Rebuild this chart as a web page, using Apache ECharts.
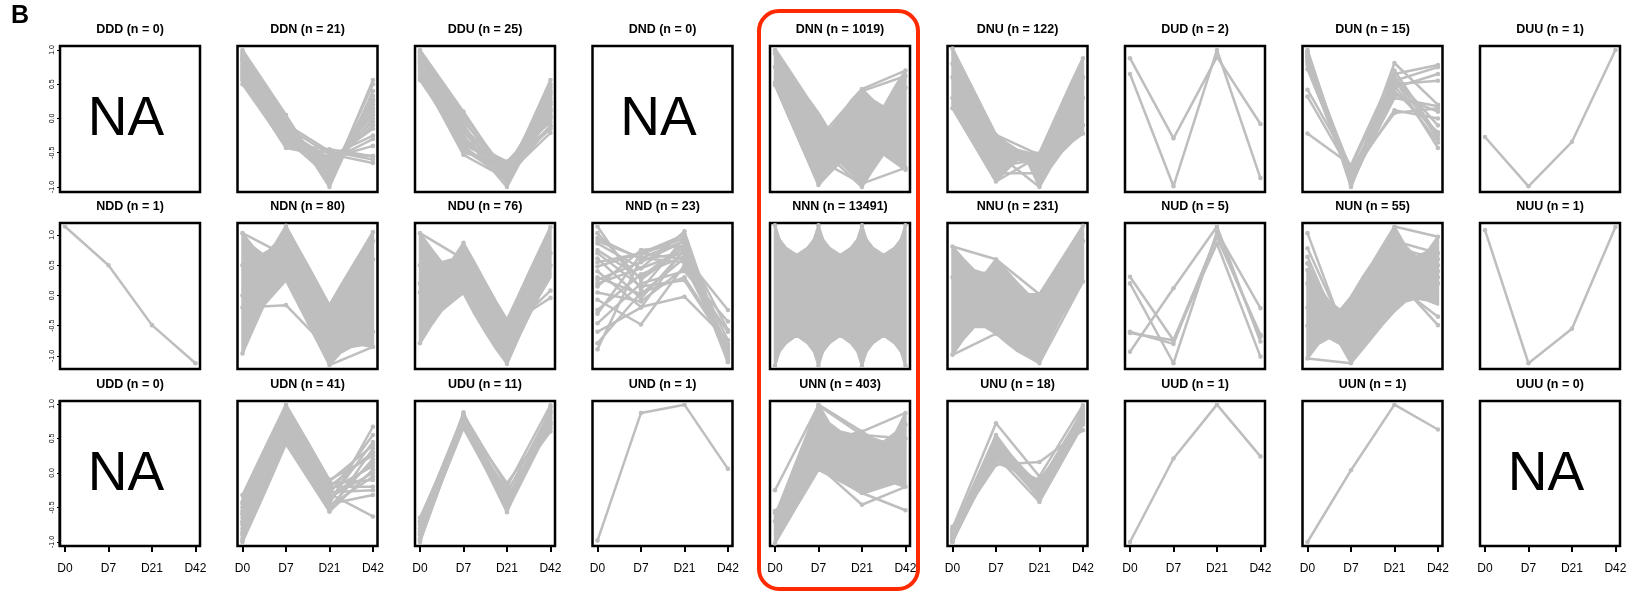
<!DOCTYPE html>
<html>
<head>
<meta charset="utf-8">
<script src="https://cdn.jsdelivr.net/npm/echarts@6/dist/echarts.min.js"></script>
<style>
  html, body { margin: 0; padding: 0; background: #fff; }
  #chart { width: 1640px; height: 592px; }
</style>
</head>
<body>
<div id="chart"></div>
<script>
// Expression-pattern panels: each trajectory is one gene (D0, D7, D21, D42).
const timeLabels = ['D0', 'D7', 'D21', 'D42'];
const timePoints = [1, 2, 3, 4];
const yTickValues = [-1, -0.5, 0, 0.5, 1];

const panelNames = [
  'DDD', 'DDN', 'DDU', 'DND', 'DNN', 'DNU', 'DUD', 'DUN', 'DUU',
  'NDD', 'NDN', 'NDU', 'NND', 'NNN', 'NNU', 'NUD', 'NUN', 'NUU',
  'UDD', 'UDN', 'UDU', 'UND', 'UNN', 'UNU', 'UUD', 'UUN', 'UUU'
];
const panelCounts = [
  0, 21, 25, 0, 1019, 122, 2, 15, 1,
  1, 80, 76, 23, 13491, 231, 5, 55, 1,
  0, 41, 11, 1, 403, 18, 1, 1, 0
];
// y range per row of panels
const rowYRange = [[-1.073, 1.058], [-1.215, 1.198], [-1.058, 1.043]];

// ---- individual trajectories [D0, D7, D21, D42] ----
const linesDDN = [
  [1.00, 0.05, -0.95, 0.56], [0.95, 0.02, -0.90, 0.50], [0.90, -0.05, -0.85, 0.33],
  [0.85, -0.10, -0.80, 0.25], [0.80, -0.15, -0.75, 0.20], [0.75, -0.20, -0.72, 0.10],
  [0.70, -0.25, -0.70, 0.05], [0.65, -0.30, -0.65, -0.05], [0.60, -0.35, -0.60, -0.15],
  [0.55, -0.43, -0.55, -0.25], [0.50, -0.40, -0.50, -0.55], [0.92, -0.08, -0.48, -0.60],
  [0.88, -0.12, -0.52, -0.65], [0.78, -0.22, -0.62, -0.30], [0.68, -0.30, -0.85, 0.15],
  [0.97, 0.00, -1.00, 0.40], [0.83, -0.18, -0.58, -0.40], [0.72, -0.28, -0.78, 0.00],
  [0.62, -0.33, -0.68, -0.10], [0.58, -0.38, -0.45, -0.55], [0.87, -0.10, -0.92, 0.28]
];
const linesDDU = [
  [1.00, 0.10, -0.85, 0.56], [0.98, 0.05, -0.80, 0.50], [0.95, 0.00, -0.90, 0.45],
  [0.92, -0.05, -0.75, 0.40], [0.90, -0.10, -0.95, 0.35], [0.88, -0.15, -0.70, 0.30],
  [0.85, -0.20, -0.85, 0.25], [0.83, -0.25, -1.00, 0.20], [0.80, -0.30, -0.80, 0.15],
  [0.78, -0.35, -0.68, 0.10], [0.75, -0.40, -0.92, 0.05], [0.72, -0.45, -0.78, 0.00],
  [0.68, -0.50, -0.65, -0.05], [0.65, -0.53, -0.88, -0.10], [0.62, -0.48, -0.72, -0.15],
  [0.60, -0.42, -0.82, -0.21], [0.56, -0.38, -0.70, -0.12], [0.58, -0.30, -0.63, 0.02],
  [0.70, -0.20, -0.75, 0.22], [0.96, -0.12, -0.93, 0.38], [0.82, -0.45, -0.87, 0.12]
];
const linesDNN = [
  [1.00, -0.30, 0.43, 0.70], [0.49, -0.97, -0.30, -0.75], [0.52, -0.90, 0.40, 0.62],
  [0.75, -0.40, -1.00, 0.45], [0.95, -0.60, -0.95, -0.72]
];
const linesDNU = [
  [1.02, -0.24, -0.53, 0.88], [0.15, -0.92, -0.55, -0.22], [0.60, -0.50, -1.00, 0.30],
  [0.80, -0.70, -0.60, 0.60], [0.30, -0.80, -0.80, -0.10]
];
const linesDUD = [
  [0.88, -0.29, 0.90, -0.08], [0.65, -0.99, 1.00, -0.87]
];
const linesDUN = [
  [1.00, -0.95, 0.81, 0.20], [0.98, -0.90, 0.65, 0.78], [0.96, -1.00, 0.55, 0.75],
  [0.94, -0.85, 0.45, 0.65], [0.92, -0.92, 0.60, -0.10], [0.90, -0.80, 0.50, 0.55],
  [0.88, -0.97, 0.40, -0.20], [0.85, -0.75, 0.35, 0.10], [0.82, -0.88, 0.62, -0.30],
  [0.78, -0.93, 0.30, 0.18], [0.72, -0.83, 0.12, 0.00], [0.42, -0.70, 0.58, -0.43],
  [0.32, -0.78, 0.08, 0.15], [-0.22, -0.68, 0.70, -0.25], [0.96, -0.96, 0.48, -0.35]
];
const linesDUU = [[-0.27, -0.99, -0.34, 1.00]];

const linesNDD = [[1.14, 0.50, -0.49, -1.12]];
const linesNDN = [
  [1.03, 0.66, -0.50, 1.05], [-0.96, 1.15, -1.15, -0.85], [-0.20, -0.16, -0.90, 0.60],
  [0.50, 0.90, -0.30, -0.60], [0.00, 0.60, -0.70, 0.90]
];
const linesNDU = [
  [1.03, 0.60, -0.90, 1.13], [-0.79, 0.87, -1.13, 0.50], [0.20, 0.30, -0.60, 0.08],
  [0.05, 0.15, -0.50, -0.04], [0.50, 0.04, -0.40, 0.70]
];
const linesNND = [
  [1.14, 0.10, 0.95, -1.10], [1.03, 0.26, 0.80, -1.00], [0.95, 0.60, 0.70, -0.85],
  [0.86, 0.45, 1.06, -1.05], [0.75, 0.30, 0.85, -0.95], [0.61, -0.05, 0.75, -0.74],
  [0.48, 0.70, 0.60, -1.00], [0.26, 0.55, 0.90, -1.08], [0.15, 0.75, 0.82, -0.57],
  [-0.07, -0.48, 0.50, -0.90], [-0.24, 0.35, 0.65, -0.24], [-0.46, 0.20, 0.40, -0.43],
  [-0.79, 0.05, 0.30, -0.80], [-0.89, 0.62, 0.55, -0.95], [0.40, -0.19, -0.02, -0.74],
  [0.20, 0.45, 0.72, -1.10], [-0.30, 0.68, 0.95, -0.98], [0.70, 0.15, 0.25, -0.85],
  [0.05, -0.10, 0.45, -0.60], [0.90, 0.62, 0.90, -1.05], [-0.60, -0.20, 0.78, -0.92],
  [0.55, 0.70, 1.00, -0.99], [0.30, 0.02, 0.62, -0.88]
];
const linesNNN = [
  [1.16, -1.16, 1.16, -1.16], [-1.16, 1.16, -1.16, 1.16]
];
const linesNNU = [
  [0.81, 0.60, 0.02, 1.15], [-0.98, -0.63, -1.12, 0.23], [0.30, 0.40, -0.50, 0.90]
];
const linesNUD = [
  [0.31, -0.74, 0.97, -0.65], [0.20, -1.12, 1.05, -0.21], [-0.62, -0.74, 0.86, -1.01],
  [-0.93, 0.12, 1.14, -0.76], [-0.60, -0.80, 1.00, -0.68]
];
const linesNUN = [
  [1.03, -0.90, 0.50, 0.40], [0.78, -0.80, 0.60, 0.50], [0.64, -1.00, 0.70, 0.30],
  [0.53, -0.95, 0.80, 0.60], [0.42, -0.85, 0.40, 0.20], [0.20, -0.75, 0.90, 0.70],
  [-0.50, -0.90, 0.30, -0.49], [-0.20, -1.00, 0.20, -0.35], [-1.04, -1.12, 1.14, 0.97]
];
const linesNUU = [[1.08, -1.12, -0.55, 1.13]];

const linesUDN = [
  [-0.32, 0.60, -0.20, 0.30], [-0.45, 0.80, -0.30, 0.55], [-0.50, 0.70, -0.45, 0.67],
  [-0.55, 0.90, -0.25, 0.10], [-0.60, 0.55, -0.40, 0.45], [-0.65, 0.99, -0.50, 0.20],
  [-0.70, 0.75, -0.15, -0.10], [-0.75, 0.85, -0.35, 0.00], [-0.80, 0.65, -0.55, 0.35],
  [-0.85, 0.95, -0.20, -0.20], [-0.90, 0.50, -0.10, 0.25], [-0.95, 0.88, -0.45, -0.32],
  [-1.00, 0.78, -0.30, -0.63], [-0.98, 0.92, -0.56, 0.05], [-0.88, 0.45, -0.38, 0.15],
  [-0.72, 0.60, -0.28, -0.25], [-0.58, 0.82, -0.12, 0.40], [-0.42, 0.68, -0.48, -0.05]
];
const linesUDU = [
  [-0.70, 0.85, -0.20, 0.98], [-0.75, 0.80, -0.30, 0.90], [-0.80, 0.75, -0.40, 0.85],
  [-0.85, 0.70, -0.45, 0.80], [-0.90, 0.65, -0.50, 0.75], [-0.95, 0.88, -0.55, 0.70],
  [-1.00, 0.78, -0.35, 0.65], [-0.72, 0.68, -0.25, 0.60], [-0.88, 0.82, -0.48, 0.88],
  [-0.98, 0.72, -0.57, 0.95], [-0.65, 0.76, -0.15, 0.72]
];
const linesUND = [[-0.98, 0.87, 0.99, 0.06]];
const linesUNN = [
  [-0.25, 0.98, 0.55, 0.50], [-0.58, 0.10, -0.46, -0.20], [-0.55, 0.05, -0.29, -0.54],
  [-1.02, 0.99, 0.60, 0.87], [-0.70, 0.30, 0.20, 0.70]
];
const linesUNU = [
  [-0.80, 0.72, -0.05, 0.98], [-0.85, 0.55, -0.30, 0.90], [-0.90, 0.50, -0.20, 0.85],
  [-0.95, 0.45, -0.25, 0.80], [-1.00, 0.40, -0.35, 0.75], [-0.92, 0.35, -0.28, 0.82],
  [-0.88, 0.30, -0.22, 0.88], [-0.98, 0.25, -0.42, 0.70], [-0.83, 0.12, 0.16, 0.62],
  [-0.96, 0.48, -0.38, 0.92], [-0.87, 0.20, -0.18, 0.78], [-0.93, 0.42, -0.32, 0.86],
  [-1.00, 0.52, -0.40, 0.95], [-0.78, 0.15, -0.10, 0.72], [-0.90, 0.38, -0.15, 0.90],
  [-0.94, 0.46, -0.26, 0.84], [-0.86, 0.33, -0.36, 0.80], [-0.99, 0.28, -0.30, 0.76]
];
const linesUUD = [[-1.00, 0.21, 0.99, 0.24]];
const linesUUN = [[-1.00, 0.04, 0.99, 0.63]];

// ---- spread of densely overlapping trajectories: [time, low, high] ----
const bandDNN = [
  [1.00, 0.49, 1.02], [1.25, 0.12, 0.78], [1.50, -0.24, 0.54], [1.75, -0.60, 0.30],
  [2.00, -0.97, 0.08], [2.25, -0.78, -0.18], [2.50, -0.64, 0.03], [2.75, -0.80, 0.26],
  [3.00, -1.00, 0.43], [3.25, -0.75, 0.27], [3.50, -0.52, 0.17], [3.75, -0.62, 0.45],
  [4.00, -0.75, 0.70]
];
const bandDNU = [
  [1.00, 0.15, 1.02], [1.25, -0.12, 0.70], [1.50, -0.38, 0.39], [1.75, -0.65, 0.07],
  [2.00, -0.92, -0.24], [2.25, -0.75, -0.36], [2.50, -0.60, -0.46], [2.75, -0.66, -0.50],
  [3.00, -1.00, -0.50], [3.25, -0.72, -0.15], [3.50, -0.50, 0.20], [3.75, -0.34, 0.55],
  [4.00, -0.22, 0.88]
];
const bandNDN = [
  [1.00, -0.96, 1.03], [1.25, -0.55, 0.80], [1.50, -0.15, 0.66], [1.75, 0.05, 0.85],
  [2.00, 0.25, 1.15], [2.25, -0.10, 0.82], [2.50, -0.45, 0.50], [2.75, -0.80, 0.17],
  [3.00, -1.15, -0.16], [3.25, -0.95, 0.15], [3.50, -0.85, 0.45], [3.75, -0.82, 0.75],
  [4.00, -0.85, 1.05]
];
const bandNDU = [
  [1.00, -0.79, 1.03], [1.25, -0.50, 0.78], [1.50, -0.25, 0.55], [1.75, -0.10, 0.60],
  [2.00, 0.04, 0.87], [2.25, -0.30, 0.55], [2.50, -0.60, 0.22], [2.75, -0.88, -0.10],
  [3.00, -1.13, -0.40], [3.25, -0.72, -0.02], [3.50, -0.35, 0.37], [3.75, 0.00, 0.75],
  [4.00, 0.30, 1.13]
];
const bandNNN = [
  [1.00, -1.16, 1.16], [1.04, -1.04, 1.04], [1.10, -0.93, 0.93], [1.25, -0.79, 0.79],
  [1.50, -0.66, 0.67], [1.75, -0.79, 0.79], [1.90, -0.93, 0.93], [1.96, -1.04, 1.04],
  [2.00, -1.16, 1.16], [2.04, -1.04, 1.04], [2.10, -0.93, 0.93], [2.25, -0.79, 0.79],
  [2.50, -0.66, 0.67], [2.75, -0.79, 0.79], [2.90, -0.93, 0.93], [2.96, -1.04, 1.04],
  [3.00, -1.16, 1.16], [3.04, -1.04, 1.04], [3.10, -0.93, 0.93], [3.25, -0.79, 0.79],
  [3.50, -0.66, 0.67], [3.75, -0.79, 0.79], [3.90, -0.93, 0.93], [3.96, -1.04, 1.04],
  [4.00, -1.16, 1.16]
];
const bandNNU = [
  [1.00, -0.98, 0.81], [1.25, -0.72, 0.60], [1.50, -0.52, 0.42], [1.75, -0.52, 0.36],
  [2.00, -0.63, 0.60], [2.25, -0.78, 0.40], [2.50, -0.92, 0.20], [2.75, -1.02, 0.02],
  [3.00, -1.12, 0.02], [3.25, -0.70, 0.28], [3.50, -0.35, 0.55], [3.75, -0.05, 0.85],
  [4.00, 0.23, 1.15]
];
const bandNUN = [
  [1.00, -1.04, 0.42], [1.25, -0.80, 0.15], [1.50, -0.70, -0.10], [1.75, -0.80, -0.24],
  [2.00, -1.12, -0.02], [2.25, -0.90, 0.28], [2.50, -0.68, 0.55], [2.75, -0.46, 0.85],
  [3.00, -0.26, 1.14], [3.25, -0.10, 0.82], [3.50, -0.05, 0.64], [3.75, -0.08, 0.72],
  [4.00, -0.15, 0.97]
];
const bandUDN = [
  [1.00, -1.00, -0.32], [1.50, -0.30, 0.34], [2.00, 0.42, 0.99], [2.50, -0.07, 0.45],
  [3.00, -0.56, -0.10]
];
const bandUNN = [
  [1.00, -1.02, -0.62], [1.25, -0.75, -0.22], [1.50, -0.48, 0.18], [1.75, -0.22, 0.58],
  [2.00, 0.05, 0.99], [2.25, -0.02, 0.72], [2.50, -0.10, 0.60], [2.75, -0.20, 0.56],
  [3.00, -0.30, 0.60], [3.25, -0.25, 0.50], [3.50, -0.20, 0.45], [3.75, -0.15, 0.55],
  [4.00, -0.20, 0.87]
];

const panelLines = {
  DDN: linesDDN, DDU: linesDDU, DNN: linesDNN, DNU: linesDNU, DUD: linesDUD,
  DUN: linesDUN, DUU: linesDUU, NDD: linesNDD, NDN: linesNDN, NDU: linesNDU,
  NND: linesNND, NNN: linesNNN, NNU: linesNNU, NUD: linesNUD, NUN: linesNUN,
  NUU: linesNUU, UDN: linesUDN, UDU: linesUDU, UND: linesUND, UNN: linesUNN,
  UNU: linesUNU, UUD: linesUUD, UUN: linesUUN
};
const panelBands = {
  DNN: bandDNN, DNU: bandDNU, NDN: bandNDN, NDU: bandNDU, NNN: bandNNN,
  NNU: bandNNU, NUN: bandNUN, UDN: bandUDN, UNN: bandUNN
};

// ---- layout ----
const GRAY = '#bebebe';
const FONT = '"Liberation Sans", Arial, Helvetica, sans-serif';
const COLS = 9;
const colLeft = c => 59 + 177.5 * c;
const rowTop = [45, 222, 400];
const boxW = 140, boxH = [146, 146, 145];

const grids = [], xAxes = [], yAxes = [], series = [], graphics = [];

panelNames.forEach((name, k) => {
  const r = Math.floor(k / COLS), c = k % COLS;
  const left = colLeft(c) + 1, top = rowTop[r] + 1;
  const isBottom = r === 2, isLeft = c === 0;

  grids.push({
    left, top, width: boxW, height: boxH[r], show: true,
    borderColor: '#000', borderWidth: 2.5, backgroundColor: '#fff'
  });
  xAxes.push({
    type: 'value', gridIndex: k, min: 0.885, max: 4.105,
    splitLine: { show: false },
    axisLine: { show: false, onZero: false },
    axisTick: {
      show: isBottom, customValues: timePoints, length: 6,
      lineStyle: { color: '#000', width: 2 }
    },
    axisLabel: {
      show: isBottom, customValues: timePoints, margin: 17,
      fontSize: 12, color: '#000', fontFamily: FONT,
      formatter: v => timeLabels[Math.round(v) - 1]
    }
  });
  yAxes.push({
    type: 'value', gridIndex: k, min: rowYRange[r][0], max: rowYRange[r][1],
    splitLine: { show: false },
    axisLine: { show: false, onZero: false },
    axisTick: {
      show: isLeft, customValues: yTickValues, length: 3,
      lineStyle: { color: '#000', width: 1 }
    },
    axisLabel: {
      show: isLeft, customValues: yTickValues, rotate: 90, margin: 4,
      fontSize: 7, color: '#000', fontFamily: FONT,
      formatter: v => v.toFixed(1)
    }
  });

  // panel title
  graphics.push({
    type: 'text', x: colLeft(c) + 71, y: rowTop[r] - 15, z: 10,
    style: {
      text: name + ' (n = ' + panelCounts[k] + ')',
      font: 'bold 12.5px ' + FONT, fill: '#000',
      textAlign: 'center', textVerticalAlign: 'middle'
    }
  });

  if (panelCounts[k] === 0) {
    graphics.push({
      type: 'text', x: colLeft(c) + 67, y: rowTop[r] + 75, z: 10,
      style: {
        text: 'NA', font: '55px ' + FONT, fill: '#000',
        textAlign: 'center', textVerticalAlign: 'middle'
      }
    });
  }

  const band = panelBands[name];
  if (band) {
    series.push({
      type: 'custom', xAxisIndex: k, yAxisIndex: k, data: band, silent: true, z: 2,
      encode: { x: 0, y: [1, 2] },
      renderItem(params, api) {
        if (params.dataIndex !== 0) return null;
        const upper = band.map(b => api.coord([b[0], b[2]]));
        const lower = band.map(b => api.coord([b[0], b[1]])).reverse();
        return {
          type: 'polygon',
          shape: { points: upper.concat(lower) },
          style: { fill: GRAY, stroke: GRAY, lineWidth: 2.5, lineJoin: 'round' }
        };
      }
    });
  }

  const lines = panelLines[name];
  if (lines) {
    series.push({
      type: 'custom', xAxisIndex: k, yAxisIndex: k, data: lines, silent: true, z: 3,
      renderItem(params, api) {
        const pts = timePoints.map((t, i) => api.coord([t, api.value(i)]));
        const children = [{
          type: 'polyline', shape: { points: pts },
          style: { stroke: GRAY, lineWidth: 2.5, fill: null, lineJoin: 'round' }
        }];
        pts.forEach(p => children.push({
          type: 'circle', shape: { cx: p[0], cy: p[1], r: 2.3 }, style: { fill: GRAY }
        }));
        return { type: 'group', children };
      }
    });
  }
});

// panel letter
graphics.push({
  type: 'text', x: 11, y: 4, z: 10,
  style: { text: 'B', font: 'bold 25px ' + FONT, fill: '#000' }
});
// left axis bracket on the UDD panel
graphics.push({
  type: 'polyline', z: 10,
  shape: { points: [[77, 401], [59.5, 401], [59.5, 546], [77, 546]] },
  style: { stroke: '#000', lineWidth: 2, fill: null }
});
// highlight around the DNN / NNN / UNN column
graphics.push({
  type: 'rect', z: 10,
  shape: { x: 759, y: 11, width: 159, height: 578, r: 20 },
  style: { stroke: '#ff2a00', lineWidth: 4, fill: null }
});

const chart = echarts.init(document.getElementById('chart'), null, { renderer: 'canvas' });
chart.setOption({
  animation: false,
  backgroundColor: '#fff',
  grid: grids,
  xAxis: xAxes,
  yAxis: yAxes,
  series,
  graphic: graphics
});
</script>
</body>
</html>
